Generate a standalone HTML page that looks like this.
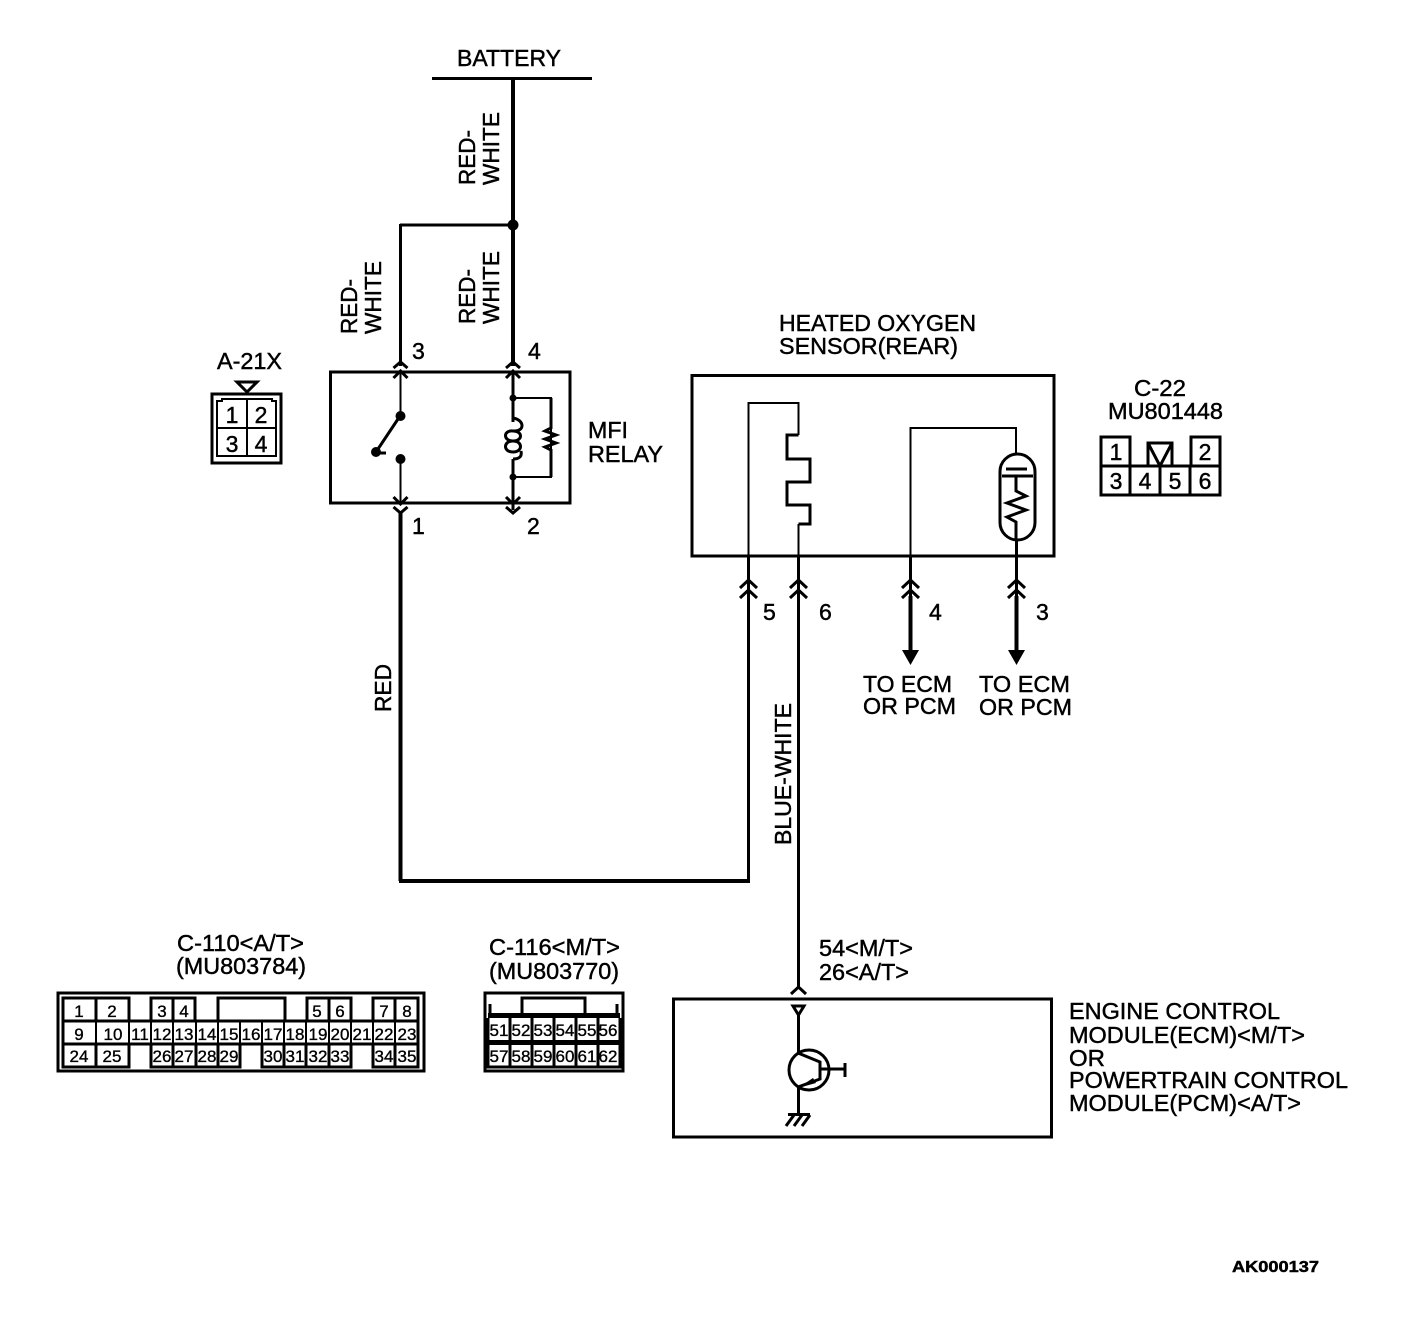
<!DOCTYPE html>
<html><head><meta charset="utf-8"><style>
html,body{margin:0;padding:0;background:#fff}
svg{display:block}
text{font-family:"Liberation Sans",sans-serif;font-size:23px;fill:#000;stroke:#000;stroke-width:.45}
.s{font-size:17px;stroke-width:.35}
.n{font-size:23px}
.w{fill:none;stroke:#000;stroke-width:2}
.t{fill:none;stroke:#000;stroke-width:3}
.k{fill:none;stroke:#000;stroke-width:4}
.c text{text-anchor:middle}
</style></head><body>
<svg width="1408" height="1336" viewBox="0 0 1408 1336" xmlns="http://www.w3.org/2000/svg">
<!-- Battery -->
<text x="457" y="66" textLength="104" lengthAdjust="spacingAndGlyphs">BATTERY</text>
<path class="t" d="M432 78.500H592"/>
<path class="k" d="M513 78V366"/>
<path class="t" d="M400 225H513M400.500 224V366"/>
<circle cx="513" cy="225" r="5.500"/>
<g>
<text transform="translate(475,185) rotate(-90)" textLength="55" lengthAdjust="spacingAndGlyphs">RED-</text>
<text transform="translate(499,185) rotate(-90)" textLength="73" lengthAdjust="spacingAndGlyphs">WHITE</text>
<text transform="translate(475,324) rotate(-90)" textLength="55" lengthAdjust="spacingAndGlyphs">RED-</text>
<text transform="translate(499,324) rotate(-90)" textLength="73" lengthAdjust="spacingAndGlyphs">WHITE</text>
<text transform="translate(357,334) rotate(-90)" textLength="55" lengthAdjust="spacingAndGlyphs">RED-</text>
<text transform="translate(381,334) rotate(-90)" textLength="73" lengthAdjust="spacingAndGlyphs">WHITE</text>
<text transform="translate(391,712) rotate(-90)" textLength="48" lengthAdjust="spacingAndGlyphs">RED</text>
<text transform="translate(791,845) rotate(-90)" textLength="142" lengthAdjust="spacingAndGlyphs">BLUE-WHITE</text>
</g>

<!-- A-21X -->
<text x="217" y="369" textLength="65" lengthAdjust="spacingAndGlyphs">A-21X</text>
<path class="t" d="M237 382H257L247 392Z"/>
<rect x="212" y="394" width="69" height="69" class="t"/>
<path class="w" d="M217 456V401H222V399H272V401H276V456ZM247 399V456M217 428H276"/>
<g class="c">
<text x="232" y="423" class="n">1</text><text x="261" y="423" class="n">2</text>
<text x="232" y="452" class="n">3</text><text x="261" y="452" class="n">4</text>
</g>

<!-- MFI relay -->
<rect x="330.500" y="372" width="239.500" height="131" class="t"/>
<path class="w" d="M400.500 372V416M400.500 459V503"/>
<path class="w" d="M513 398H551V477H513"/>
<path class="t" d="M513 372V422M513 459V510"/>
<path class="t" d="M393.500 368L400.500 362L407.500 368M393.500 378L400.500 371L407.500 378"/>
<path class="t" d="M506 368L513 362L520 368M506 378L513 371L520 378"/>
<path class="t" d="M393.500 497L400.500 504L407.500 497M393.500 507L400.500 513L407.500 507M506 497L513 504L520 497M506 507L513 513L520 507"/>
<circle cx="400.500" cy="416" r="5"/><circle cx="400.500" cy="459" r="5"/>
<circle cx="376" cy="452" r="5"/><path class="t" d="M400 416L376 452M376 453H386"/>
<circle cx="513" cy="398" r="3.500"/><circle cx="513" cy="477" r="3.500"/>
<path class="t" d="M513 418C525 420 525 432 513 431C503 430 503 441 513 441C523 441 523 452 513 452C503 452 503 441 513 441C523 441 523 431 513 431M513 459C520 459 522 456 521 451"/>
<path class="t" d="M551 398V428L545 431L556 435L545 439L556 443L545 447L551 450V477"/>
<text x="412" y="359" class="n">3</text>
<text x="528" y="359" class="n">4</text>
<text x="412" y="534" class="n">1</text>
<text x="527" y="534" class="n">2</text>
<text x="588" y="438" textLength="40" lengthAdjust="spacingAndGlyphs">MFI</text>
<text x="588" y="462" textLength="75" lengthAdjust="spacingAndGlyphs">RELAY</text>

<!-- Red wire -->
<path class="k" d="M400.500 512V881M399 881H750"/>
<path class="t" d="M748.500 881V556"/>

<!-- Heated oxygen sensor -->
<text x="779" y="331" textLength="197" lengthAdjust="spacingAndGlyphs">HEATED OXYGEN</text>
<text x="779" y="354" textLength="179" lengthAdjust="spacingAndGlyphs">SENSOR(REAR)</text>
<rect x="692" y="375.500" width="362" height="180.500" class="t"/>
<path class="w" d="M748.500 556V403H798.500V435"/>
<path class="t" d="M798.500 435H787V459H810V482H787V505H810V524H798.500"/>
<path class="w" d="M798.500 524V556"/>
<path class="w" d="M910.500 556V428H1016V454"/>
<rect x="1000" y="454" width="35" height="86" rx="17.500" class="t"/>
<path class="t" d="M1006 469H1027M1002 476H1033"/>
<path class="t" d="M1016 476V491L1026 496L1007 503L1026 510L1007 517L1016 522V540"/>
<path class="t" d="M1016.500 540V650M910.500 556V650"/>
<path class="t" d="M798.500 556V988"/>
<path class="t" d="M740 588L748.500 580L757 588M740 598L748.500 590L757 598M790 588L798.500 580L807 588M790 598L798.500 590L807 598M902 588L910.500 580L919 588M902 598L910.500 590L919 598M1008 588L1016.500 580L1025 588M1008 598L1016.500 590L1025 598"/>
<path d="M902 650H919L910.500 665ZM1008 650H1025L1016.500 665Z"/>
<path class="k" d="M910.500 596V652M1016.500 596V652"/>
<text x="763" y="620" class="n">5</text>
<text x="819" y="620" class="n">6</text>
<text x="929" y="620" class="n">4</text>
<text x="1036" y="620" class="n">3</text>
<text x="863" y="692" textLength="89" lengthAdjust="spacingAndGlyphs">TO ECM</text>
<text x="863" y="714" textLength="93" lengthAdjust="spacingAndGlyphs">OR PCM</text>
<text x="979" y="692" textLength="91" lengthAdjust="spacingAndGlyphs">TO ECM</text>
<text x="979" y="715" textLength="93" lengthAdjust="spacingAndGlyphs">OR PCM</text>

<!-- C-22 -->
<text x="1134" y="396" textLength="52" lengthAdjust="spacingAndGlyphs">C-22</text>
<text x="1108" y="419" textLength="115" lengthAdjust="spacingAndGlyphs">MU801448</text>
<path class="t" d="M1101 466V437H1130V466M1191 466V437H1220V466M1101 466H1220V495H1101ZM1130 466V495M1160 466V495M1190 466V495"/>
<path class="t" d="M1148 466V443H1172V466M1148 443L1160 466L1172 443"/>
<g class="c">
<text x="1116" y="460" class="n">1</text><text x="1205" y="460" class="n">2</text>
<text x="1116" y="489" class="n">3</text><text x="1145" y="489" class="n">4</text><text x="1175" y="489" class="n">5</text><text x="1205" y="489" class="n">6</text>
</g>

<!-- C-110 -->
<text x="177" y="951" textLength="127" lengthAdjust="spacingAndGlyphs">C-110&lt;A/T&gt;</text>
<text x="176" y="974" textLength="130" lengthAdjust="spacingAndGlyphs">(MU803784)</text>
<rect x="58" y="993" width="366" height="78" class="w" style="stroke-width:3"/>
<path class="t" d="M63 1021V998H129V1021M96 998V1021M151 1021V998H195V1021M173 998V1021M218 1021V998H285V1021M307 1021V998H351V1021M329 998V1021M373 1021V998H418V1021M395 998V1021"/>
<path class="t" d="M63 1021H418V1044H63ZM63 1044V1067H129V1044M96 1044V1067M151 1044V1067H240V1044M173 1044V1067M196 1044V1067M218 1044V1067M262 1044V1067H351V1044M284 1044V1067M306 1044V1067M329 1044V1067M373 1044V1067H418V1044M395 1044V1067"/>
<path class="w" d="M96 1021V1044M129 1021V1044M151 1021V1044M173 1021V1044M196 1021V1044M218 1021V1044M240 1021V1044M262 1021V1044M284 1021V1044M306 1021V1044M329 1021V1044M351 1021V1044M373 1021V1044M395 1021V1044"/>
<g class="c">
<text x="79" y="1017" class="s">1</text><text x="112" y="1017" class="s">2</text><text x="162" y="1017" class="s">3</text><text x="184" y="1017" class="s">4</text><text x="317" y="1017" class="s">5</text><text x="340" y="1017" class="s">6</text><text x="384" y="1017" class="s">7</text><text x="407" y="1017" class="s">8</text>
<text x="79" y="1040" class="s">9</text><text x="113" y="1040" class="s">10</text><text x="140" y="1040" class="s">11</text><text x="162" y="1040" class="s">12</text><text x="184" y="1040" class="s">13</text><text x="207" y="1040" class="s">14</text><text x="229" y="1040" class="s">15</text><text x="251" y="1040" class="s">16</text><text x="273" y="1040" class="s">17</text><text x="295" y="1040" class="s">18</text><text x="318" y="1040" class="s">19</text><text x="340" y="1040" class="s">20</text><text x="362" y="1040" class="s">21</text><text x="384" y="1040" class="s">22</text><text x="407" y="1040" class="s">23</text>
<text x="79" y="1062" class="s">24</text><text x="112" y="1062" class="s">25</text><text x="162" y="1062" class="s">26</text><text x="184" y="1062" class="s">27</text><text x="207" y="1062" class="s">28</text><text x="229" y="1062" class="s">29</text><text x="273" y="1062" class="s">30</text><text x="295" y="1062" class="s">31</text><text x="318" y="1062" class="s">32</text><text x="340" y="1062" class="s">33</text><text x="384" y="1062" class="s">34</text><text x="407" y="1062" class="s">35</text>
</g>

<!-- C-116 -->
<text x="489" y="955" textLength="131" lengthAdjust="spacingAndGlyphs">C-116&lt;M/T&gt;</text>
<text x="489" y="979" textLength="130" lengthAdjust="spacingAndGlyphs">(MU803770)</text>
<rect x="485" y="993" width="138" height="78" class="w" style="stroke-width:3"/>
<path class="t" d="M522 1014V998H585V1014M490 1014V1004M617 1014V1004"/>
<rect x="488" y="1013" width="132" height="5"/>
<rect x="488" y="1040" width="132" height="5"/>
<path class="t" d="M488 1018V1067H620V1018M510 1018V1067M532 1018V1067M554 1018V1067M576 1018V1067M598 1018V1067"/>
<g class="c">
<text x="499" y="1036" class="s">51</text><text x="521" y="1036" class="s">52</text><text x="543" y="1036" class="s">53</text><text x="565" y="1036" class="s">54</text><text x="587" y="1036" class="s">55</text><text x="608" y="1036" class="s">56</text>
<text x="499" y="1062" class="s">57</text><text x="521" y="1062" class="s">58</text><text x="543" y="1062" class="s">59</text><text x="565" y="1062" class="s">60</text><text x="587" y="1062" class="s">61</text><text x="608" y="1062" class="s">62</text>
</g>

<!-- ECM -->
<text x="819" y="956" textLength="94" lengthAdjust="spacingAndGlyphs">54&lt;M/T&gt;</text>
<text x="819" y="980" textLength="90" lengthAdjust="spacingAndGlyphs">26&lt;A/T&gt;</text>
<rect x="673.500" y="999" width="378" height="138" class="t"/>
<path class="t" d="M791 994L798.500 987L806 994"/>
<path class="t" d="M793 1006H804L798.500 1015Z"/>
<path class="t" d="M798.500 1015V1053M798.500 1087V1114"/>
<circle cx="809" cy="1070" r="20" class="t"/>
<path class="t" d="M798 1053L820 1062V1079L798 1087M820 1069H845M845 1063V1077"/>
<path d="M798 1088L813 1078L816 1083Z"/>
<path class="t" d="M788 1114.500H810M794 1115L786 1126M802 1115L794 1126M810 1115L802 1126"/>
<text x="1069" y="1019" textLength="211" lengthAdjust="spacingAndGlyphs">ENGINE CONTROL</text>
<text x="1069" y="1043" textLength="236" lengthAdjust="spacingAndGlyphs">MODULE(ECM)&lt;M/T&gt;</text>
<text x="1069" y="1066" textLength="36" lengthAdjust="spacingAndGlyphs">OR</text>
<text x="1069" y="1088" textLength="279" lengthAdjust="spacingAndGlyphs">POWERTRAIN CONTROL</text>
<text x="1069" y="1111" textLength="232" lengthAdjust="spacingAndGlyphs">MODULE(PCM)&lt;A/T&gt;</text>

<text x="1232" y="1272" style="font-size:16px;font-weight:bold" textLength="87" lengthAdjust="spacingAndGlyphs">AK000137</text>
</svg>
</body></html>
